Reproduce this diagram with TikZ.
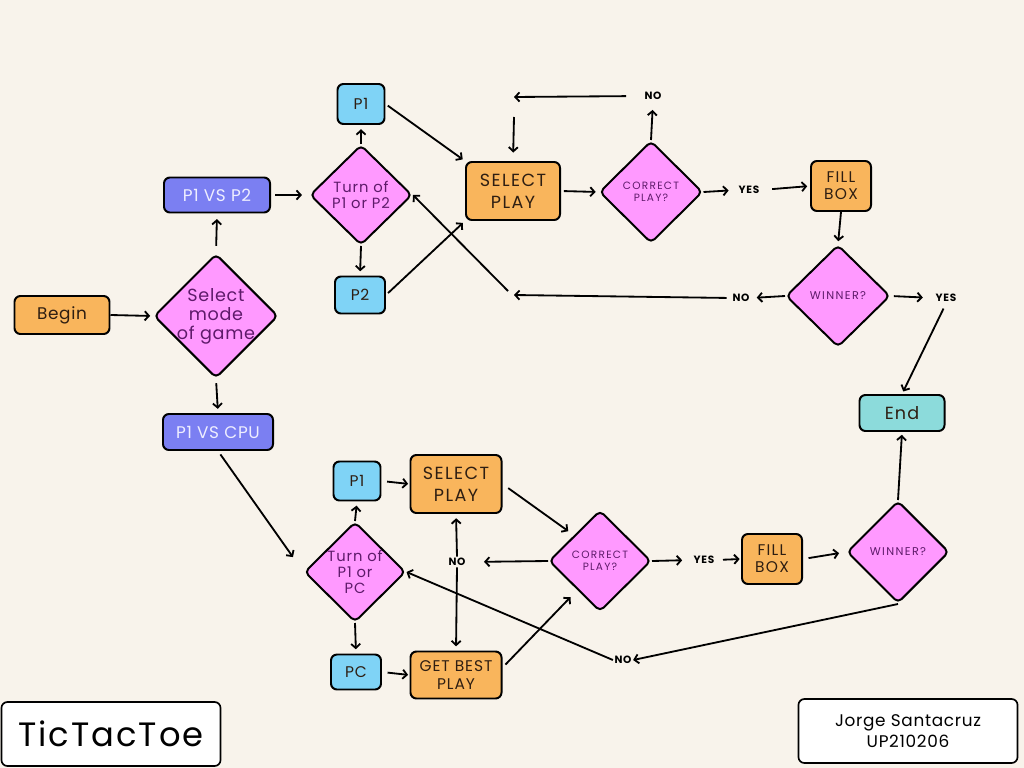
\documentclass[tikz,border=0pt]{standalone}
\usepackage{fontspec}
\setmainfont[LetterSpace=4]{Poppins}
\newfontfamily\spaced[LetterSpace=6]{Poppins}
\newfontfamily\wider[LetterSpace=8]{Poppins}
\newfontfamily\widest[LetterSpace=12]{Poppins}
\usetikzlibrary{shapes.geometric,arrows.meta,positioning}

\definecolor{paper}{HTML}{F8F3EB}
\definecolor{playorange}{HTML}{F9B55C}
\definecolor{askpink}{HTML}{FF99FF}
\definecolor{asktext}{HTML}{5E1A6A}
\definecolor{modeviolet}{HTML}{7B7FF2}
\definecolor{modetext}{HTML}{EEEEFF}
\definecolor{playerblue}{HTML}{7FD3F6}
\definecolor{endteal}{HTML}{8CDBDB}
\definecolor{ink}{HTML}{2E1E12}

\newcommand{\fsz}[2]{\fontsize{#1}{#2}\selectfont}

\tikzset{
  box/.style={draw, line width=1.4pt, rounded corners=0.15cm, inner sep=0pt, align=center, text=ink},
  playbox/.style={box, fill=playorange},
  modebox/.style={box, fill=modeviolet, text=modetext},
  playerbox/.style={box, fill=playerblue},
  endbox/.style={box, fill=endteal},
  notebox/.style={box, fill=white, line width=1.2pt, text=black},
  decision/.style={diamond, draw, line width=1.4pt, rounded corners=0.12cm, fill=askpink, inner sep=0pt},
  dtext/.style={text=asktext, align=center, inner sep=0pt},
  answer/.style={font=\spaced\bfseries\fsz{7.5}{9}, inner sep=1pt, text=black},
}

\begin{document}
\begin{tikzpicture}[x=0.025cm, y=-0.025cm, >={Straight Barb[length=3pt,width=6.5pt]}]
    \fill[paper] (0,0) rectangle (1024,768);
    \useasboundingbox (0,0) rectangle (1024,768);
    %states
    \node[playbox, minimum width=2.375cm, minimum height=0.95cm, font=\fsz{12}{14}] (begin) at (62,315) {Begin};
    \node[decision, minimum width=3.1cm, minimum height=3.1cm, label={[dtext, font=\fsz{12.5}{13.5}]center:{Select\\mode\\of game}}] (mode) at (216,316) {};
    \node[modebox, minimum width=2.65cm, minimum height=0.875cm, font=\fsz{12}{14}] (vsp2) at (217,195) {P1 VS P2};
    \node[modebox, minimum width=2.75cm, minimum height=0.9cm, font=\fsz{12}{14}] (vscpu) at (218,432) {P1 VS CPU};
    % upper game
    \node[decision, minimum width=2.55cm, minimum height=2.5cm, label={[dtext, font=\spaced\fsz{10.5}{11.5}]center:{Turn of\\P1 or P2}}] (turnA) at (361,195) {};
    \node[playerbox, minimum width=1.175cm, minimum height=1cm, font=\fsz{11}{13}] (p1A) at (361,104) {P1};
    \node[playerbox, minimum width=1.25cm, minimum height=0.925cm, font=\fsz{11}{13}] (p2A) at (360,295) {P2};
    \node[playbox, minimum width=2.35cm, minimum height=1.45cm, font=\wider\fsz{12.5}{15.5}] (selA) at (513,191) {SELECT\\PLAY};
    \node[decision, minimum width=2.575cm, minimum height=2.55cm, label={[dtext, font=\widest\fsz{7.5}{8.5}]center:{CORRECT\\PLAY?}}] (corA) at (651,192) {};
    \node[answer] (yesA) at (749,190) {YES};
    \node[answer] (noA1) at (653,96) {NO};
    \node[playbox, minimum width=1.5cm, minimum height=1.25cm, font=\wider\fsz{11}{12}] (fillA) at (841,186) {FILL\\BOX};
    \node[decision, minimum width=2.6cm, minimum height=2.55cm, label={[dtext, font=\widest\fsz{8}{9}]center:{WINNER?}}] (winA) at (838,296) {};
    \node[answer] (noA2) at (741,298) {NO};
    \node[answer] (yesA2) at (946,298) {YES};
    \node[endbox, minimum width=2.125cm, minimum height=0.9cm, font=\spaced\fsz{12.5}{14}] (endn) at (902,413) {End};
    % lower game
    \node[decision, minimum width=2.525cm, minimum height=2.5cm, label={[dtext, font=\spaced\fsz{10.5}{11.5}]center:{Turn of\\P1 or\\PC}}] (turnB) at (355,572) {};
    \node[playerbox, minimum width=1.175cm, minimum height=0.975cm, font=\fsz{11}{13}] (p1B) at (357,481) {P1};
    \node[playerbox, minimum width=1.25cm, minimum height=0.875cm, font=\fsz{11}{13}] (pcB) at (356,672) {PC};
    \node[playbox, minimum width=2.275cm, minimum height=1.45cm, font=\wider\fsz{12.5}{15.5}] (selB) at (456,484) {SELECT\\PLAY};
    \node[playbox, minimum width=2.275cm, minimum height=1.175cm, font=\spaced\fsz{11}{13}] (bestB) at (456,675) {GET BEST\\PLAY};
    \node[answer] (noB1) at (457,562) {NO};
    \node[decision, minimum width=2.55cm, minimum height=2.525cm, label={[dtext, font=\widest\fsz{7.5}{8.5}]center:{CORRECT\\PLAY?}}] (corB) at (600,561) {};
    \node[answer] (yesB) at (704,560) {YES};
    \node[playbox, minimum width=1.5cm, minimum height=1.25cm, font=\wider\fsz{11}{12}] (fillB) at (772,559) {FILL\\BOX};
    \node[decision, minimum width=2.55cm, minimum height=2.55cm, label={[dtext, font=\widest\fsz{8}{9}]center:{WINNER?}}] (winB) at (898,552) {};
    \node[answer] (noB2) at (623,660) {NO};
    % notes
    \node[notebox, minimum width=5.475cm, minimum height=1.6cm, font=\spaced\fsz{24}{28}] (title) at (111,734) {TicTacToe};
    \node[notebox, minimum width=5.475cm, minimum height=1.6cm, font=\fsz{12}{15}] (author) at (908,731) {Jorge Santacruz\\UP210206};
    \coordinate (loopAend) at (514,97);
    \coordinate (loopAstart) at (514,117);
    \coordinate (backAend) at (514,295);
    \coordinate (backAstart) at (508,291);
    %edges
    \path[->, line width=1.3pt]
     (begin.east) edge[shorten >=2pt] (mode.west)
     (mode.north) edge[shorten <=5pt, shorten >=4pt] (vsp2.south)
     (mode.south) edge[shorten <=3pt, shorten >=3pt] (vscpu.north)
     (vsp2.east) edge[shorten <=3pt, shorten >=5pt] (turnA.west)
     (turnA.north) edge[shorten >=3pt] (p1A.south)
     (turnA.south) edge[shorten >=3pt] (p2A.north)
     (p1A.east) edge[shorten <=2pt, shorten >=2pt] (selA.north west)
     (p2A.east) edge[shorten <=2pt, shorten >=2pt] (selA.south west)
     (selA.east) edge[shorten <=2pt, shorten >=2pt] (corA.west)
     (corA.east) edge[shorten >=6pt] (yesA.west)
     (yesA.east) edge[shorten <=8pt, shorten >=2pt] (fillA.west)
     (fillA.south) edge[shorten >=2pt] (winA.north)
     (corA.north) edge[shorten >=6pt] (noA1.south)
     (noA1.west) edge[shorten <=12pt] (loopAend)
     (loopAstart) edge[shorten >=6pt] (selA.north)
     (winA.west) edge[shorten >=4pt] (noA2.east)
     (noA2.west) edge[shorten <=3pt] (backAend)
     (backAstart) edge (turnA.east)
     (winA.east) edge[shorten <=2pt, shorten >=8pt] (yesA2.west)
     (yesA2.south) edge[shorten <=4pt, shorten >=2pt] (endn.north)
     (vscpu.south) edge[shorten <=3pt, shorten >=13pt] (turnB.west)
     (turnB.north) edge[shorten >=3pt] (p1B.south)
     (turnB.south) edge[shorten >=3pt] (pcB.north)
     (p1B.east) edge[shorten <=4pt, shorten >=1pt] (selB.west)
     (pcB.east) edge[shorten <=4pt, shorten >=1pt] (bestB.west)
     (selB.east) edge[shorten <=5pt, shorten >=5pt] (corB.north west)
     (bestB.9) edge[shorten <=3pt, shorten >=7pt] (corB.232)
     (corB.west) edge[shorten >=12pt] (noB1.east)
     (noB1.north) edge[shorten >=3pt] (selB.south)
     (noB1.south) edge[shorten >=3pt] (bestB.north)
     (corB.east) edge[shorten >=7pt] (yesB.west)
     (yesB.east) edge[shorten <=5pt, shorten >=1pt] (fillB.west)
     (fillB.east) edge[shorten <=4pt, shorten >=5pt] (winB.west)
     (winB.north) edge[shorten >=2pt] (endn.south)
     (winB.south) edge (noB2.east)
     (noB2.west) edge (turnB.east);
\end{tikzpicture}
\end{document}
